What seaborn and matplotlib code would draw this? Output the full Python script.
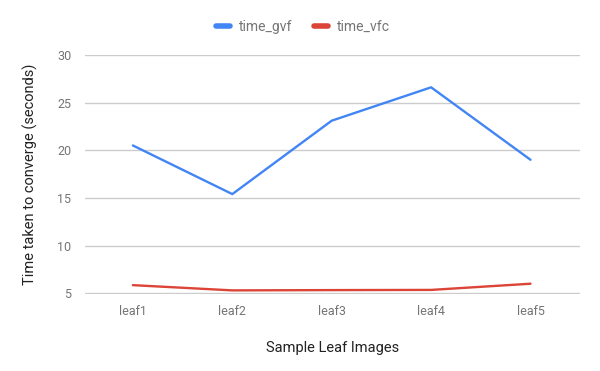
import seaborn as sns
import matplotlib.pyplot as plt
import pandas as pd

leaves = ['leaf1', 'leaf2', 'leaf3', 'leaf4', 'leaf5']
time_gvf = [20.5, 15.4, 23.1, 26.6, 19.0]
time_vfc = [5.85, 5.3, 5.33, 5.35, 6.0]
series_names = ['time_gvf', 'time_vfc']
y_ticks = [5, 10, 15, 20, 25, 30]

df = pd.DataFrame({'leaf': leaves, 'time_gvf': time_gvf, 'time_vfc': time_vfc})
long_df = pd.melt(df, id_vars=['leaf'], value_vars=series_names,
                  var_name='series', value_name='seconds')

sns.set_theme(style='white')
plt.rcParams['font.family'] = ['Roboto', 'DejaVu Sans']

fig = plt.figure(figsize=(6, 3.71), dpi=100)
ax = fig.add_axes([0.142, 0.207, 0.825, 0.645])

sns.lineplot(data=long_df, x='leaf', y='seconds', hue='series', sort=False,
             palette=['#4285f4', '#db4437'], linewidth=1.7, ax=ax, legend=False)

ax.set_xlim(-0.48, 4.5)
ax.set_ylim(4.9, 30)
ax.set_yticks(y_ticks)
ax.grid(axis='y', color='#cccccc', linewidth=1)
ax.set_axisbelow(True)
for s in ax.spines.values():
    s.set_visible(False)
ax.tick_params(axis='both', length=0, labelsize=9, colors='#757575', pad=8)
ax.tick_params(axis='y', pad=10)
ax.set_xlabel('Sample Leaf Images', fontsize=10.5, color='#222222', labelpad=16)
ax.set_ylabel('Time taken to converge (seconds)', fontsize=10.5, color='#222222', labelpad=14)

handles = [plt.Line2D([], [], color=c, linewidth=4) for c in ['#4285f4', '#db4437']]
fig.legend(handles, series_names, loc='center', bbox_to_anchor=(0.505, 0.927), ncol=2,
           frameon=False, fontsize=10, labelcolor='#757575', handlelength=1.0,
           handletextpad=0.6, columnspacing=1.6)

plt.savefig('out.png', dpi=100)
